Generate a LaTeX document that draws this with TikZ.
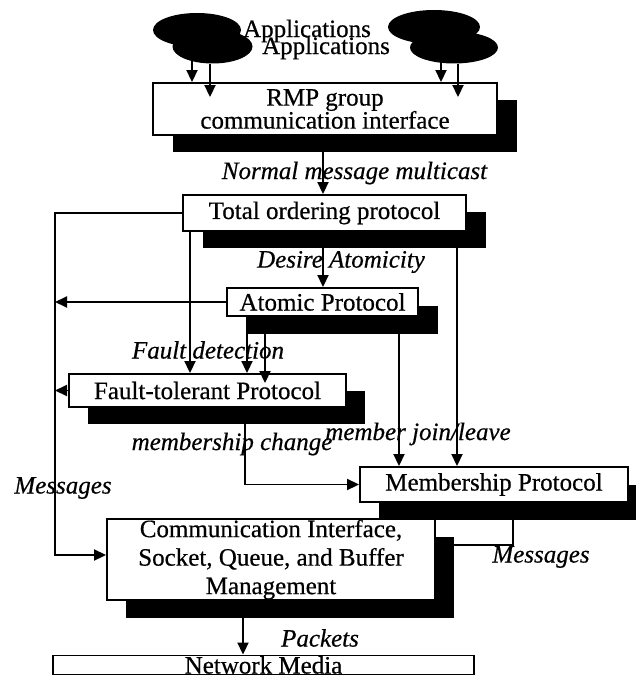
\documentclass[tikz,border=0pt]{standalone}
\usepackage{fontspec}
\setmainfont{Liberation Serif}[FakeBold=0.5]
\usetikzlibrary{arrows.meta,shapes.geometric}
\newcommand{\bigfs}{\fontsize{25}{28}\selectfont}
\begin{document}
\begin{tikzpicture}[x=1pt,y=-1pt,
  box/.style={draw, line width=1.9pt, fill=white, inner sep=0pt, font=\bigfs, align=center},
  shadebox/.style={fill=black, draw=none, inner sep=0pt},
  cloudpart/.style={ellipse, fill=black, draw=none, inner sep=0pt},
  lbl/.style={font=\itshape\bigfs, inner sep=0pt},
  txt/.style={font=\bigfs, inner sep=0pt},
  link/.style={line width=1.9pt},
  arr/.style={link, -{Triangle[length=12pt,width=11pt]}}]

\fill[white] (0,0) rectangle (636,677);
\useasboundingbox (0,0) rectangle (636,677);

% application clouds
\node[cloudpart, minimum width=88pt, minimum height=34pt] (appLb) at (197,30) {};
\node[cloudpart, minimum width=80pt, minimum height=34pt] (appLf) at (212.5,46.5) {};
\node[cloudpart, minimum width=92pt, minimum height=34pt] (appRb) at (434,27) {};
\node[cloudpart, minimum width=88pt, minimum height=32pt] (appRf) at (454,47.5) {};
\node[txt] (appT1) at (307,31) {Applications};
\node[txt] (appT2) at (326,48) {Applications};

% shadows
\node[shadebox, minimum width=344pt, minimum height=52pt] (rmpS) at (345,126) {};
\node[shadebox, minimum width=283pt, minimum height=36pt] (totS) at (344.5,230) {};
\node[shadebox, minimum width=191pt, minimum height=28pt] (atomS) at (342.5,320) {};
\node[shadebox, minimum width=277pt, minimum height=33pt] (ftS) at (226.5,407.5) {};
\node[shadebox, minimum width=268pt, minimum height=35pt] (memS) at (513,502.5) {};
\node[shadebox, minimum width=328pt, minimum height=81pt] (commS) at (290,577.5) {};

% protocol boxes
\node[box, minimum width=344pt, minimum height=52pt, font=\fontsize{25}{23}\selectfont] (rmp) at (325,109) {RMP group\\communication interface};
\node[box, minimum width=283pt, minimum height=36pt] (tot) at (324.5,213) {Total ordering protocol};
\node[box, minimum width=191pt, minimum height=28pt] (atom) at (322.5,302) {Atomic Protocol};
\node[box, minimum width=277pt, minimum height=33pt] (ft) at (207.5,390.5) {Fault-tolerant Protocol};
\node[box, minimum width=268pt, minimum height=35pt] (mem) at (494,484.5) {Membership Protocol};
\node[box, minimum width=328pt, minimum height=81pt, font=\fontsize{25}{28.5}\selectfont] (comm) at (271,559.5) {Communication Interface,\\Socket, Queue, and Buffer\\Management};
\node[box, minimum width=421pt, minimum height=19pt] (net) at (263.5,665) {Network Media};

\coordinate (rmpIn) at ([yshift=-15pt]rmp.north);
\coordinate (ftIn) at ([yshift=-10pt]ft.north);

% connectors
\draw[arr] (192,0 |- appLb.south) -- (192,0 |- rmp.north);
\draw[arr] (210,0 |- appLf.south) -- (210,0 |- rmpIn);
\draw[arr] (441,0 |- appRb.south) -- (441,0 |- rmp.north);
\draw[arr] (458,0 |- appRf.south) -- (458,0 |- rmpIn);
\draw[arr] (323,0 |- rmpS.south) -- (323,0 |- tot.north);
\draw[arr] (tot.west) -- (55,0 |- tot.west) -- (55,555) -- (comm.west |- 0,555);
\draw[arr] (190,0 |- tot.south) -- (190,0 |- ft.north);
\draw[arr] (323,0 |- totS.south) -- (323,0 |- atom.north);
\draw[arr] (457,0 |- totS.south) -- (457,0 |- mem.north);
\draw[arr] (atom.west) -- (55,0 |- atom.west);
\draw[arr] (247,0 |- atom.south) -- (247,0 |- ft.north);
\draw[arr] (265,0 |- atomS.south) -- (265,0 |- ftIn);
\draw[arr] (399,0 |- atomS.south) -- (399,0 |- mem.north);
\draw[arr] (ft.west) -- (55,0 |- ft.west);
\draw[arr] (245,0 |- ftS.south) |- (mem.west);
\draw[link] (memS.south) -- (513,545) -- (comm.east |- 0,545);
\draw[arr] (243,0 |- commS.south) -- (243,0 |- net.north);

% connector labels
\node[lbl] (lNorm) at (354.5,173) {Normal message multicast};
\node[lbl] (lDes) at (341,262) {Desire Atomicity};
\node[lbl] (lFault) at (208,350) {Fault detection};
\node[lbl] (lMch) at (232,444) {membership change};
\node[lbl] (lJoin) at (418,434) {member join/leave};
\node[lbl] (lMsgL) at (63,488) {Messages};
\node[lbl] (lMsgR) at (541,557) {Messages};
\node[lbl] (lPkt) at (320,638) {Packets};
\end{tikzpicture}
\end{document}
